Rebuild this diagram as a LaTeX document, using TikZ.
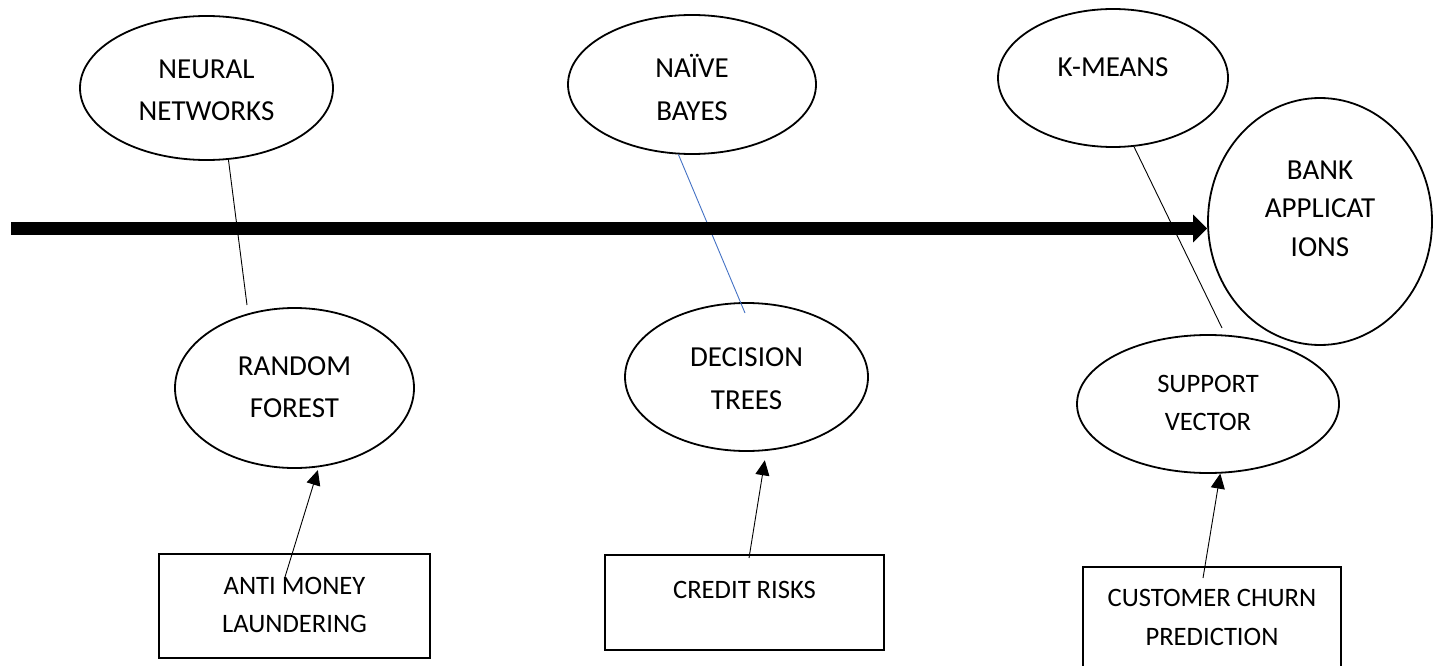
\documentclass[tikz,border=0pt]{standalone}
\usepackage{fontspec}
\setmainfont{Carlito}
\usetikzlibrary{arrows.meta,shapes.geometric}
\definecolor{linkblue}{HTML}{4472C4}
\begin{document}
\begin{tikzpicture}[x=1pt,y=-1pt,
  oval/.style={draw, ellipse, line width=1.8pt, inner sep=0pt, align=center,
    font=\fontsize{29}{42}\selectfont},
  box/.style={draw, rectangle, line width=2.4pt, inner sep=0pt, align=center,
    font=\fontsize{26.6}{38.5}\selectfont},
  lbl/.style={inner sep=0pt, align=center},
  thinline/.style={line width=0.9pt, black},
  blueline/.style={line width=0.9pt, linkblue},
  uparrow/.style={line width=0.9pt, -{Triangle[length=15pt,width=14pt]}},
  mainarrow/.style={line width=12.5pt, -{Triangle[length=14pt,width=27pt]}}
]
\useasboundingbox (0,0) rectangle (1439,666);
\clip (0,0) rectangle (1439,666);

% ellipses
\node[oval, minimum width=253pt, minimum height=144pt] (nn) at (206.5,88) {};
\node[lbl, font=\fontsize{29}{42}\selectfont] (nnt) at (206.5,91) {NEURAL\strut\\NETWORKS\strut};
\node[oval, minimum width=248pt, minimum height=139pt] (nb) at (692,84.5) {};
\node[lbl, font=\fontsize{29}{43}\selectfont] (nbt) at (692,90) {NA\"IVE\strut\\BAYES\strut};
\node[oval, minimum width=230pt, minimum height=138pt] (km) at (1113,78) {};
\node[lbl, font=\fontsize{29}{42}\selectfont] (kmt) at (1113,67) {K-MEANS};
\node[oval, minimum width=224pt, minimum height=247pt] (ba) at (1320,221.5) {};
\node[lbl, font=\fontsize{29}{38.5}\selectfont] (bat) at (1320,210) {BANK\strut\\APPLICAT\strut\\IONS\strut};
\node[oval, minimum width=239pt, minimum height=160pt] (rf) at (294.5,388) {RANDOM\strut\\FOREST\strut};
\node[oval, minimum width=243pt, minimum height=148pt] (dt) at (746.5,377) {};
\node[lbl, font=\fontsize{29}{43}\selectfont] (dtt) at (746.5,379) {DECISION\strut\\TREES\strut};
\node[oval, minimum width=262pt, minimum height=138pt, font=\fontsize{26.6}{38.5}\selectfont] (sv) at (1208,404) {SUPPORT\strut\\VECTOR\strut};

% boxes
\node[box, minimum width=271pt, minimum height=104pt] (aml) at (294.5,606) {ANTI MONEY\strut\\LAUNDERING\strut};
\node[box, minimum width=279pt, minimum height=95pt] (cr) at (744.5,602.5) {};
\node[lbl, font=\fontsize{26.6}{38.5}\selectfont] (crt) at (744.5,590) {CREDIT RISKS};
\node[box, minimum width=258pt, minimum height=103pt] (cc) at (1212,618.5) {CUSTOMER CHURN\strut\\PREDICTION\strut};

% free ends of connectors
\coordinate (c1) at (247,305);
\coordinate (c2) at (745,313);
\coordinate (c3) at (1222,328);
\coordinate (a1) at (285,577);
\coordinate (a2) at (749,558);
\coordinate (a3) at (1203,578);
\coordinate (s0) at (11,228.5);

% connectors
\draw[thinline] (nn.-73.9) -- (c1);
\draw[blueline] (nb.-101.5) -- (c2);
\draw[thinline] (km.-73.6) -- (c3);
\draw[uparrow, shorten >=3pt] (a1) -- (rf.-73.3);
\draw[uparrow, shorten >=9.5pt] (a2) -- (dt.-75.9);
\draw[uparrow] (a3) -- (sv.-80.1);

% main arrow
\draw[mainarrow] (s0) -- (s0 -| ba.west);
\end{tikzpicture}
\end{document}
